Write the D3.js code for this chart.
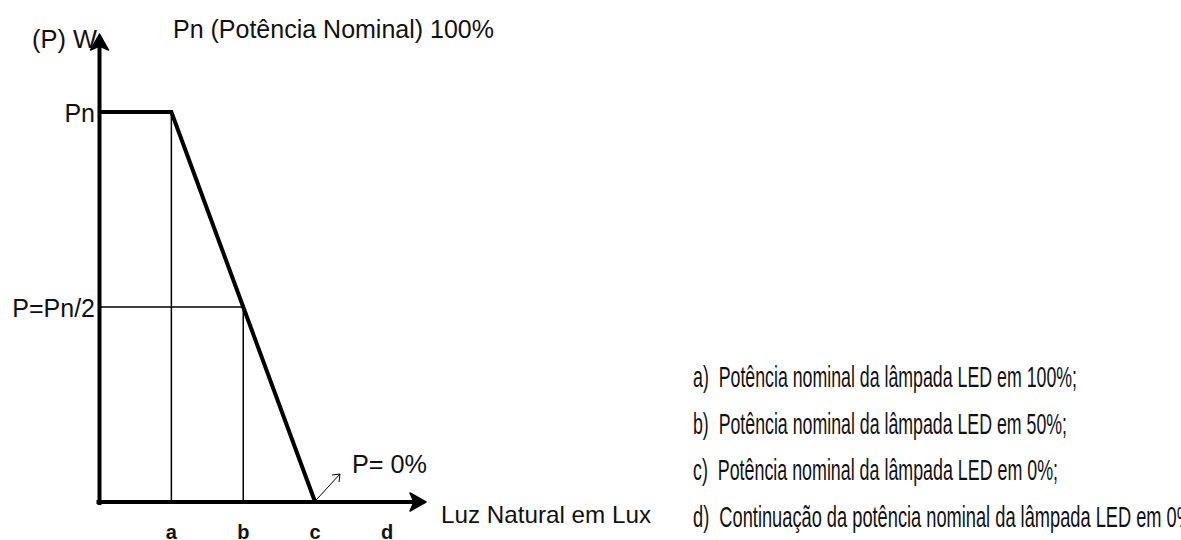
<!DOCTYPE html>
<html>
<head>
<meta charset="utf-8">
<script src="https://cdn.jsdelivr.net/npm/d3@7"></script>
<style>
  html, body { margin: 0; padding: 0; background: #fff; }
  svg { display: block; }
  text { font-family: "Liberation Sans", Arial, sans-serif; fill: #111; }
</style>
</head>
<body>
<svg id="chart" width="1181" height="540"></svg>
<script>
// ---- data ----
const categories = ["a", "b", "c", "d"];
const categoryPos = [1, 2, 3, 4];
const curveX = [0, 1, 2, 3];          // 0 = origin, then a, b, c
const curveP = [100, 100, 50, 0];     // power in % of Pn
const yLabels = [{ text: "Pn", p: 100 }, { text: "P=Pn/2", p: 50 }];
const titleText = "Pn (Potência Nominal) 100%";
const yAxisTitle = "(P) W";
const xAxisTitle = "Luz Natural em Lux";
const zeroLabel = "P= 0%";
const notes = [
  "a)  Potência nominal da lâmpada LED em 100%;",
  "b)  Potência nominal da lâmpada LED em 50%;",
  "c)  Potência nominal da lâmpada LED em 0%;",
  "d)  Continuação da potência nominal da lâmpada LED em 0%"
];
const noteWidths = [384, 374, 365, 500];

// ---- scales ----
const x = d3.scaleLinear().domain([0, 4]).range([99.5, 387]);
const y = d3.scaleLinear().domain([0, 100]).range([502, 112]);

const svg = d3.select("#chart");
svg.append("rect").attr("width", 1181).attr("height", 540).attr("fill", "#fff");

// guide lines (thin)
const g = svg.append("g").attr("stroke", "#000").attr("stroke-width", 1.5).attr("fill", "none");
g.append("line").attr("x1", x(1)).attr("x2", x(1)).attr("y1", y(100)).attr("y2", y(0));
g.append("line").attr("x1", x(2)).attr("x2", x(2)).attr("y1", y(50)).attr("y2", y(0));
g.append("line").attr("x1", x(0)).attr("x2", x(2)).attr("y1", y(50)).attr("y2", y(50));

// main curve
const line = d3.line().x((d, i) => x(curveX[i])).y(d => y(d));
svg.append("path").datum(curveP).attr("d", line)
  .attr("fill", "none").attr("stroke", "#000").attr("stroke-width", 4)
  .attr("stroke-linejoin", "miter");

// axes
const x0 = x(0), y0 = y(0);
svg.append("line").attr("x1", x0).attr("x2", x0).attr("y1", y0 + 3).attr("y2", 44)
  .attr("stroke", "#000").attr("stroke-width", 4);
svg.append("line").attr("x1", x0 - 3).attr("x2", 416).attr("y1", y0).attr("y2", y0)
  .attr("stroke", "#000").attr("stroke-width", 4);
// arrow heads
svg.append("path").attr("d", `M${x0},34 L${x0 + 9},50 L${x0},46 L${x0 - 9},50 Z`)
  .attr("fill", "#000").attr("stroke", "#000").attr("stroke-width", 1.5).attr("stroke-linejoin", "round");
svg.append("path").attr("d", `M426,${y0} L410,${y0 - 9} L414,${y0} L410,${y0 + 9} Z`)
  .attr("fill", "#000").attr("stroke", "#000").attr("stroke-width", 1.5).attr("stroke-linejoin", "round");

// small pointer arrow to P=0%
const ax1 = x(3) + 1, ay1 = y0 - 2, ax2 = 340, ay2 = 474;
svg.append("line").attr("x1", ax1).attr("y1", ay1).attr("x2", ax2).attr("y2", ay2)
  .attr("stroke", "#000").attr("stroke-width", 1);
svg.append("path").attr("d", `M${ax2 - 8},${ay2 + 1} L${ax2},${ay2} L${ax2 - 1},${ay2 + 8}`)
  .attr("fill", "none").attr("stroke", "#000").attr("stroke-width", 1);

// category labels
svg.append("g").selectAll("text").data(categories).join("text")
  .attr("x", (d, i) => x(categoryPos[i])).attr("y", 539)
  .attr("text-anchor", "middle").attr("font-weight", "bold").attr("font-size", 20)
  .text(d => d);

// y labels
svg.append("g").selectAll("text").data(yLabels).join("text")
  .attr("x", 95).attr("y", d => y(d.p) + 10)
  .attr("text-anchor", "end").attr("font-size", 25)
  .text(d => d.text);

svg.append("text").attr("x", 32).attr("y", 48).attr("font-size", 25)
  .attr("textLength", 65).attr("lengthAdjust", "spacingAndGlyphs").text(yAxisTitle);
svg.append("text").attr("x", 173).attr("y", 38).attr("font-size", 25)
  .attr("textLength", 321).attr("lengthAdjust", "spacingAndGlyphs").text(titleText);
svg.append("text").attr("x", 441).attr("y", 523).attr("font-size", 24)
  .attr("textLength", 210).attr("lengthAdjust", "spacingAndGlyphs").text(xAxisTitle);
svg.append("text").attr("x", 352).attr("y", 473).attr("font-size", 25)
  .attr("textLength", 75).attr("lengthAdjust", "spacingAndGlyphs").text(zeroLabel);

// notes (condensed)
svg.append("g").selectAll("text").data(notes).join("text")
  .attr("x", 693).attr("y", (d, i) => 387 + i * 46.5)
  .attr("font-size", 29)
  .attr("textLength", (d, i) => noteWidths[i]).attr("lengthAdjust", "spacingAndGlyphs")
  .attr("xml:space", "preserve").style("white-space", "pre")
  .text(d => d);
</script>
</body>
</html>
